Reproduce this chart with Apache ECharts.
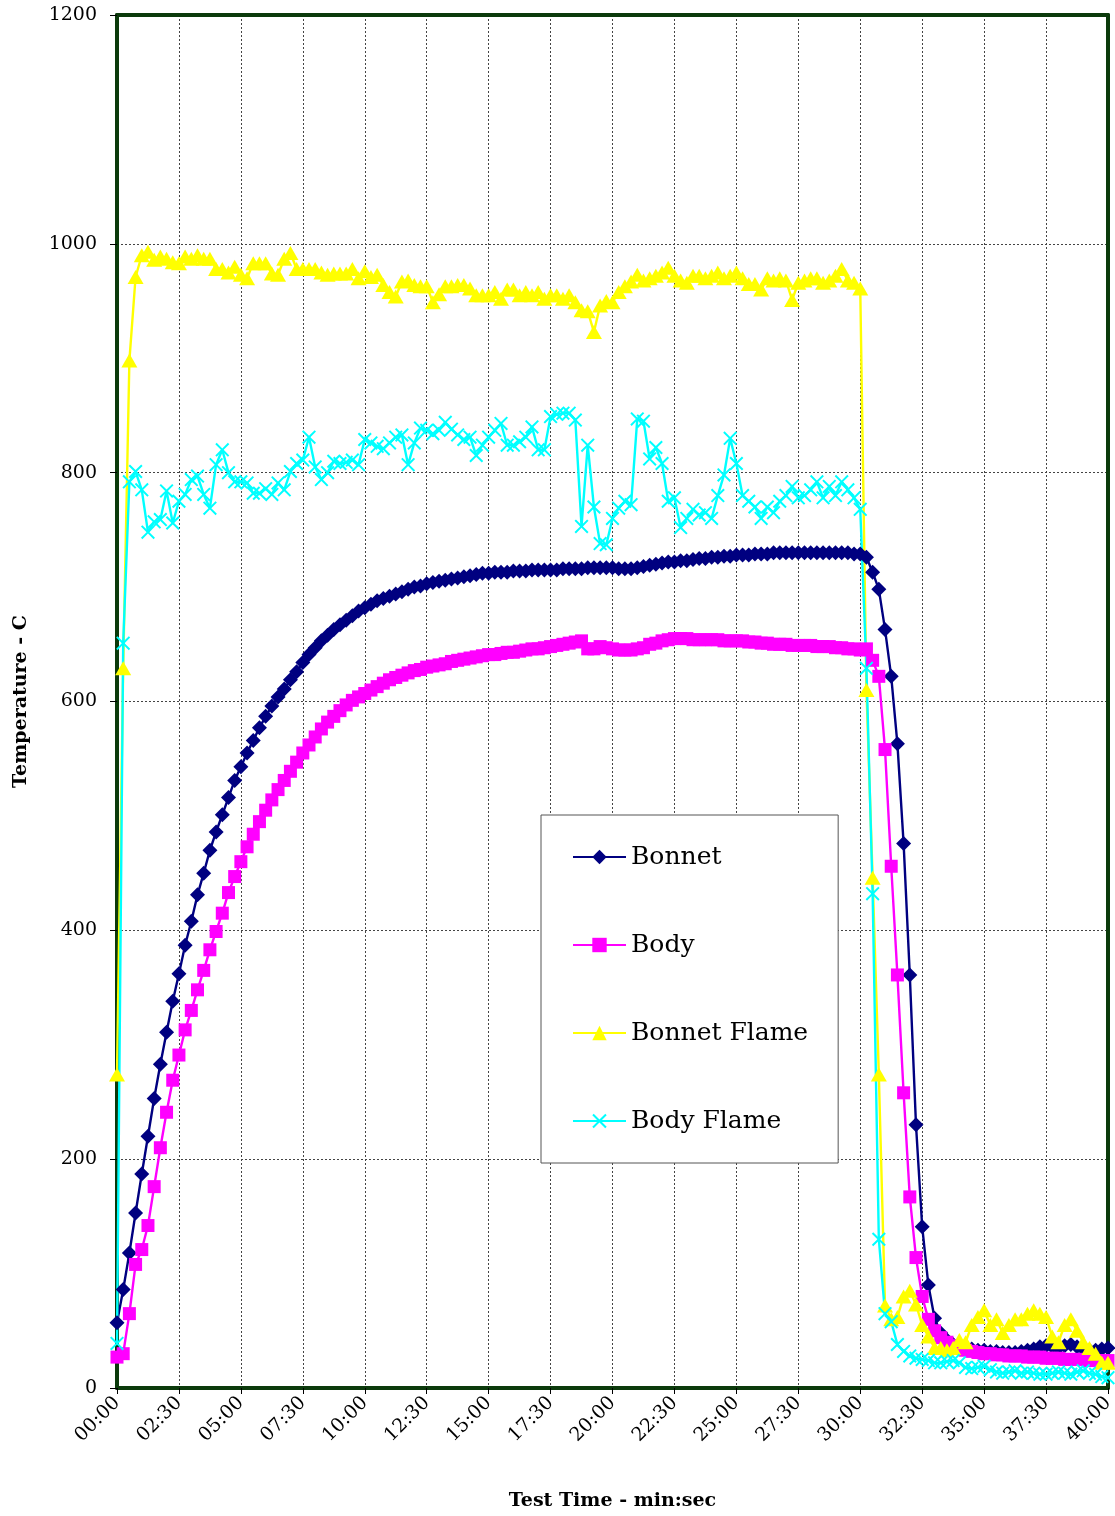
<!DOCTYPE html>
<html>
<head>
<meta charset="utf-8">
<script src="https://cdn.jsdelivr.net/npm/echarts@6/dist/echarts.min.js"></script>
<style>
html, body { margin: 0; padding: 0; background: #fff; }
#chart { width: 1115px; height: 1516px; }
</style>
</head>
<body>
<div id="chart"></div>
<script>
// one reading every 15 seconds, 00:00 .. 40:00
const stepSec = 15;
const seriesNames = ["Bonnet", "Body", "Bonnet Flame", "Body Flame"];

const bonnet = [
  57, 86, 118, 153, 187, 220, 253, 283, 311, 338,
  362, 387, 408, 431, 450, 470, 486, 501, 516, 531,
  543, 555, 566, 577, 587, 596, 604, 611, 619, 626,
  634, 641, 647, 653, 658, 663, 667, 671, 675, 679,
  682, 685, 688, 690, 692, 694, 696, 698, 700, 701,
  703, 704, 705, 706, 707, 708, 709, 710, 711, 712,
  712, 713, 713, 713, 714, 714, 714, 715, 715, 715,
  715, 715, 716, 716, 716, 716, 717, 717, 717, 717,
  717, 716, 716, 716, 717, 718, 719, 720, 721, 722,
  722, 723, 723, 724, 725, 725, 726, 726, 727, 727,
  728, 728, 728, 729, 729, 729, 730, 730, 730, 730,
  730, 730, 730, 730, 730, 730, 730, 730, 730, 729,
  729, 726, 713, 698, 663, 622, 563, 476, 361, 230,
  141, 90, 61, 48, 42, 38, 36, 35, 34, 33,
  33, 32, 32, 31, 31, 31, 32, 33, 34, 36,
  37, 36, 35, 37, 38, 36, 34, 33, 33, 34,
  35
];

const body = [
  27, 30, 65, 108, 121, 142, 176, 210, 241, 269,
  291, 313, 330, 348, 365, 383, 399, 415, 433, 447,
  460, 473, 484, 495, 505, 514, 523, 531, 539, 547,
  555, 562, 569, 576, 582, 587, 592, 597, 601, 604,
  607, 610, 613, 616, 619, 621, 623, 625, 627, 628,
  630, 631, 632, 633, 635, 636, 637, 638, 639, 640,
  641, 641, 642, 643, 643, 644, 645, 646, 646, 647,
  648, 649, 650, 651, 652, 653, 646, 646, 648, 647,
  646, 645, 645, 645, 646, 647, 650, 651, 653, 654,
  655, 655, 655, 654, 654, 654, 654, 654, 653, 653,
  653, 653, 652, 652, 651, 651, 650, 650, 650, 649,
  649, 649, 649, 648, 648, 648, 647, 647, 646, 646,
  645, 646, 636, 622, 558, 456, 361, 258, 167, 114,
  80, 60, 50, 44, 40, 37, 35, 33, 32, 31,
  30, 30, 29, 29, 28, 28, 28, 27, 27, 27,
  26, 26, 26, 25, 25, 25, 25, 24, 24, 24,
  24
];

const bonnetFlame = [
  274, 629, 898, 971, 990, 993, 986, 989, 987, 984,
  983, 989, 987, 990, 987, 987, 978, 978, 975, 980,
  973, 970, 983, 983, 983, 974, 973, 987, 992, 978,
  978, 978, 978, 975, 973, 974, 974, 974, 978, 970,
  976, 971, 973, 964, 958, 954, 967, 968, 964, 963,
  963, 949, 956, 963, 963, 964, 964, 961, 955, 955,
  955, 958, 952, 960, 960, 955, 958, 955, 958, 952,
  955, 955, 952, 955, 949, 942, 941, 923, 946, 950,
  949, 958, 963, 967, 973, 968, 970, 972, 975, 979,
  972, 968, 966, 972, 972, 970, 972, 975, 970, 972,
  975, 970, 965, 965, 960, 970, 968, 970, 968, 951,
  966, 968, 970, 970, 966, 968, 972, 978, 968, 966,
  961, 610, 446, 274, 72, 60, 62, 80, 85, 73,
  55, 45, 35, 35, 33, 35, 42, 40, 55, 62,
  68, 55, 60, 48, 55, 60, 60, 65, 68, 65,
  62, 45, 40, 55, 60, 50, 40, 35, 30, 22,
  22
];

const bodyFlame = [
  39, 651, 792, 801, 785, 748, 757, 759, 784, 756,
  775, 781, 794, 797, 781, 769, 807, 820, 800, 792,
  792, 791, 782, 782, 786, 781, 791, 785, 801, 808,
  811, 831, 805, 794, 800, 810, 808, 809, 811, 807,
  829, 826, 823, 821, 826, 831, 833, 807, 826, 839,
  837, 834, 837, 844, 838, 833, 829, 831, 815, 824,
  831, 837, 843, 824, 824, 827, 831, 840, 820, 820,
  849, 851, 852, 852, 846, 753, 824, 770, 738, 737,
  760, 769, 775, 772, 847, 845, 812, 822, 808, 775,
  778, 752, 760, 768, 763, 765, 760, 780, 798, 830,
  808, 780, 775, 770, 760, 770, 765, 775, 780, 788,
  778, 780, 785, 792, 778, 788, 780, 792, 785, 778,
  768, 629, 432, 130, 65, 58, 38, 32, 28, 26,
  25, 24, 22, 22, 23, 24, 22, 18, 17, 18,
  19, 16, 14, 13, 14, 15, 13, 14, 13, 12,
  12, 13, 14, 13, 12, 14, 15, 13, 12, 10,
  9
];

const crossSymbol = "path://M1,0L5,4L9,0L10,1L6,5L10,9L9,10L5,6L1,10L0,9L4,5L0,1Z";
const serif = "DejaVu Serif";
const frameColor = "#0b3a0b";

function withTime(arr) {
  return arr.map((v, i) => [i * stepSec, v]);
}

function mmss(sec) {
  const m = Math.floor(sec / 60), s = sec % 60;
  return String(m).padStart(2, "0") + ":" + String(s).padStart(2, "0");
}

function lineSeries(name, data, color, symbol, size) {
  return {
    name: name,
    type: "line",
    data: withTime(data),
    symbol: symbol,
    symbolSize: size,
    showSymbol: true,
    showAllSymbol: true,
    animation: false,
    lineStyle: { color: color, width: 2.4 },
    itemStyle: { color: color },
    emphasis: { disabled: true }
  };
}

// plain axis used only to draw the top/right edge of the frame
function frameAxis(pos, range) {
  return {
    type: "value",
    position: pos,
    min: range[0],
    max: range[1],
    axisLine: { show: true, onZero: false, lineStyle: { color: frameColor, width: 4 } },
    axisTick: { show: false },
    axisLabel: { show: false },
    splitLine: { show: false }
  };
}

let myChart = echarts.init(document.getElementById("chart"));
myChart.setOption({
  backgroundColor: "#fff",
  animation: false,
  grid: {
    left: 117,
    top: 15,
    width: 991,
    height: 1373,
    outerBoundsMode: "none",
    containLabel: false
  },
  legend: {
    orient: "vertical",
    left: 541,
    top: 815,
    padding: [27, 30, 27, 31],
    itemWidth: 53,
    itemHeight: 18,
    itemGap: 58,
    backgroundColor: "#fff",
    borderColor: "#555",
    borderWidth: 1,
    textStyle: { fontFamily: serif, fontSize: 25, lineHeight: 30, color: "#000" },
    data: seriesNames
  },
  xAxis: [{
    type: "value",
    min: 0,
    max: 2400,
    interval: 150,
    name: "Test Time - min:sec",
    nameLocation: "middle",
    nameGap: 104,
    nameTextStyle: { fontFamily: serif, fontSize: 19, fontWeight: "bold", color: "#000" },
    axisLine: { show: true, onZero: false, lineStyle: { color: frameColor, width: 4 } },
    axisTick: { show: true, length: 6, lineStyle: { color: "#000" } },
    axisLabel: {
      rotate: 45,
      margin: 12,
      fontFamily: serif,
      fontSize: 19,
      color: "#000",
      formatter: mmss
    },
    splitLine: { show: true, lineStyle: { color: "#444", width: 1, type: [2, 2] } }
  }, frameAxis("top", [0, 2400])],
  yAxis: [{
    type: "value",
    min: 0,
    max: 1200,
    interval: 200,
    name: "Temperature - C",
    nameLocation: "middle",
    nameGap: 86,
    nameTextStyle: { fontFamily: serif, fontSize: 19, fontWeight: "bold", color: "#000" },
    axisLine: { show: true, onZero: false, lineStyle: { color: frameColor, width: 4 } },
    axisTick: { show: true, length: 7, lineStyle: { color: "#000" } },
    axisLabel: {
      margin: 20,
      fontFamily: serif,
      fontSize: 19,
      color: "#000",
      formatter: function (v) { return String(v); }
    },
    splitLine: { show: true, lineStyle: { color: "#444", width: 1, type: [2, 2] } }
  }, frameAxis("right", [0, 1200])],
  series: [
    lineSeries("Bonnet", bonnet, "#000080", "diamond", 15),
    lineSeries("Body", body, "#ff00ff", "rect", 13),
    lineSeries("Bonnet Flame", bonnetFlame, "#ffff00", "triangle", [16, 14]),
    lineSeries("Body Flame", bodyFlame, "#00ffff", crossSymbol, 14)
  ]
});
</script>
</body>
</html>
